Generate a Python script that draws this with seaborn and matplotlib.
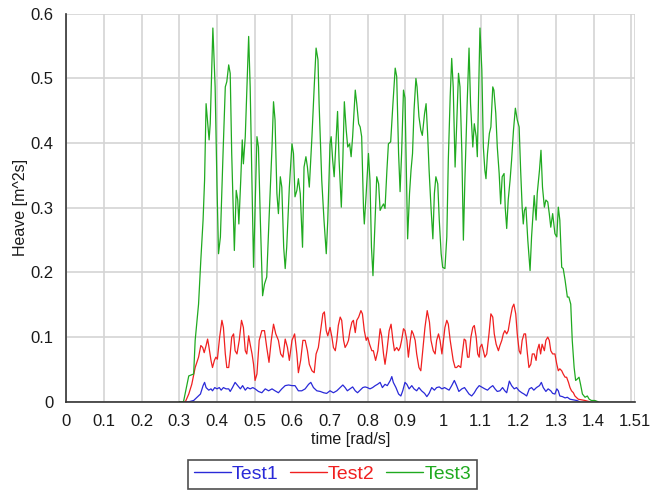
import matplotlib
matplotlib.use("Agg")
import matplotlib.pyplot as plt
import seaborn as sns
import pandas as pd
from matplotlib.ticker import MultipleLocator, FixedLocator

# ---------------- data ----------------
t3 = [0.300, 0.311, 0.325, 0.338, 0.342, 0.351, 0.357, 0.363, 0.367, 0.371, 0.379, 0.382, 0.389,
      0.395, 0.400, 0.404, 0.409, 0.416, 0.422, 0.426, 0.431, 0.435, 0.439, 0.446, 0.451, 0.455,
      0.458, 0.463, 0.467, 0.470, 0.475, 0.484, 0.488, 0.493, 0.497,
      0.506, 0.510, 0.515, 0.521, 0.526, 0.532, 0.538, 0.546, 0.550, 0.554, 0.559, 0.563, 0.568,
      0.572, 0.577, 0.581, 0.585, 0.592, 0.599, 0.603, 0.607, 0.612, 0.616, 0.621, 0.627, 0.631,
      0.636, 0.640, 0.645, 0.652, 0.658, 0.663, 0.668, 0.671, 0.678, 0.684, 0.690, 0.694, 0.700,
      0.703, 0.707, 0.711, 0.715, 0.720, 0.724, 0.730, 0.734, 0.738, 0.743, 0.747, 0.752, 0.756,
      0.760, 0.767, 0.771, 0.776, 0.780, 0.784, 0.789, 0.791, 0.796, 0.802, 0.806, 0.810, 0.814,
      0.818, 0.824, 0.829, 0.833, 0.837, 0.842, 0.846, 0.851, 0.855, 0.861, 0.867, 0.873, 0.877,
      0.882, 0.886, 0.890, 0.895,
      0.899, 0.906, 0.911, 0.915, 0.919, 0.923, 0.928, 0.931, 0.936, 0.941, 0.945, 0.951, 0.955,
      0.959, 0.963, 0.968, 0.973, 0.977, 0.981, 0.986, 0.990, 0.995, 0.999, 1.005, 1.010, 1.014,
      1.019, 1.023, 1.027, 1.032, 1.036, 1.041, 1.045, 1.050, 1.054, 1.058, 1.064, 1.069, 1.073,
      1.079, 1.083, 1.088, 1.091, 1.094,
      1.098, 1.103, 1.107, 1.111, 1.114, 1.118, 1.123, 1.127, 1.132, 1.135, 1.140, 1.144, 1.149,
      1.153, 1.157, 1.162, 1.165, 1.169, 1.173, 1.178, 1.182, 1.187, 1.192, 1.197, 1.202, 1.206,
      1.210, 1.213, 1.216, 1.220, 1.225, 1.231, 1.235, 1.240, 1.242, 1.247, 1.250, 1.256, 1.260,
      1.264, 1.269, 1.273, 1.278, 1.282, 1.286, 1.291, 1.297,
      1.302, 1.306, 1.310, 1.315, 1.319, 1.324, 1.330, 1.334, 1.339, 1.343, 1.348, 1.352, 1.356,
      1.361, 1.365, 1.370, 1.377, 1.383, 1.388, 1.394, 1.403, 1.412]
test3 = [0.000, 0.000, 0.040, 0.043, 0.095, 0.151, 0.219, 0.281, 0.343, 0.461, 0.405, 0.430, 0.578,
         0.487, 0.332, 0.229, 0.255, 0.384, 0.487, 0.495, 0.521, 0.508, 0.384, 0.234, 0.327, 0.312,
         0.275, 0.343, 0.405, 0.368, 0.410, 0.565, 0.487, 0.332, 0.208,
         0.410, 0.394, 0.281, 0.164, 0.182, 0.193, 0.281, 0.394, 0.464, 0.436, 0.322, 0.291, 0.348,
         0.332, 0.239, 0.206, 0.239, 0.332, 0.399, 0.384, 0.317, 0.327, 0.345, 0.322, 0.239, 0.363,
         0.379, 0.363, 0.332, 0.410, 0.487, 0.547, 0.529, 0.461, 0.343, 0.281, 0.229, 0.281, 0.399,
         0.410, 0.374, 0.348, 0.394, 0.449, 0.374, 0.301, 0.374, 0.464, 0.420, 0.394, 0.399, 0.379,
         0.410, 0.482, 0.461, 0.430, 0.425, 0.410, 0.296, 0.275, 0.322, 0.384, 0.343, 0.239, 0.195,
         0.255, 0.348, 0.337, 0.296, 0.301, 0.306, 0.299, 0.358, 0.399, 0.402, 0.461, 0.516, 0.503,
         0.384, 0.325, 0.384, 0.482,
         0.470, 0.252, 0.322, 0.358, 0.384, 0.451, 0.500, 0.487, 0.441, 0.420, 0.412, 0.446, 0.461,
         0.415, 0.358, 0.301, 0.252, 0.322, 0.348, 0.337, 0.281, 0.229, 0.208, 0.206, 0.255, 0.374,
         0.472, 0.531, 0.487, 0.363, 0.425, 0.508, 0.487, 0.384, 0.250, 0.343, 0.461, 0.547, 0.461,
         0.394, 0.430, 0.410, 0.379, 0.461,
         0.578, 0.513, 0.394, 0.358, 0.345, 0.384, 0.415, 0.425, 0.487, 0.482, 0.446, 0.394, 0.353,
         0.306, 0.348, 0.353, 0.301, 0.268, 0.312, 0.343, 0.374, 0.420, 0.454, 0.436, 0.425, 0.358,
         0.301, 0.275, 0.296, 0.301, 0.250, 0.203, 0.255, 0.301, 0.319, 0.281, 0.322, 0.358, 0.389,
         0.332, 0.301, 0.312, 0.309, 0.291, 0.270, 0.291, 0.260,
         0.255, 0.301, 0.281, 0.208, 0.206, 0.188, 0.162, 0.162, 0.151, 0.095, 0.053, 0.033, 0.035,
         0.038, 0.027, 0.012, 0.007, 0.009, 0.004, 0.002, 0.002, 0.000]

t2 = [0.300, 0.316, 0.325, 0.333, 0.342, 0.351, 0.357, 0.362, 0.366, 0.371, 0.375, 0.378, 0.384,
      0.388, 0.393, 0.397, 0.401, 0.407, 0.413, 0.417, 0.422, 0.426, 0.431, 0.435, 0.439, 0.444,
      0.448, 0.453, 0.459, 0.465, 0.470, 0.475, 0.479, 0.484, 0.488, 0.493, 0.497,
      0.501, 0.506, 0.512, 0.519, 0.526, 0.532, 0.538, 0.544, 0.550, 0.556, 0.563, 0.569, 0.575,
      0.581, 0.587, 0.592, 0.599, 0.606, 0.612, 0.616, 0.622, 0.628, 0.634, 0.640, 0.645, 0.652,
      0.658, 0.663, 0.669, 0.676, 0.681, 0.685, 0.690, 0.694, 0.700,
      0.705, 0.709, 0.714, 0.718, 0.722, 0.727, 0.731, 0.736, 0.740, 0.745, 0.749, 0.753, 0.758,
      0.762, 0.767, 0.771, 0.776, 0.782, 0.786, 0.791, 0.796, 0.800, 0.805, 0.811, 0.815, 0.821,
      0.827, 0.833, 0.837, 0.842, 0.846, 0.851, 0.857, 0.862, 0.867, 0.871, 0.877, 0.882, 0.886,
      0.890, 0.895,
      0.899, 0.904, 0.908, 0.913, 0.917, 0.921, 0.926, 0.930, 0.936, 0.941, 0.946, 0.952, 0.958,
      0.964, 0.968, 0.974, 0.979, 0.983, 0.988, 0.992, 0.997, 1.001, 1.005, 1.010, 1.014, 1.019,
      1.023, 1.027, 1.032, 1.036, 1.041, 1.047, 1.051, 1.056, 1.060, 1.065, 1.069, 1.074, 1.079,
      1.083, 1.088, 1.092, 1.096,
      1.098, 1.103, 1.107, 1.111, 1.116, 1.122, 1.127, 1.132, 1.136, 1.141, 1.147, 1.151, 1.156,
      1.160, 1.164, 1.169, 1.173, 1.179, 1.184, 1.188, 1.193, 1.197, 1.202, 1.206, 1.210, 1.215,
      1.219, 1.224, 1.228, 1.233, 1.237, 1.242, 1.247, 1.250, 1.255, 1.259, 1.263, 1.269, 1.273,
      1.278, 1.282, 1.286, 1.291,
      1.297, 1.302, 1.306, 1.310, 1.315, 1.319, 1.324, 1.328, 1.333, 1.337, 1.341, 1.346, 1.350,
      1.359, 1.368, 1.377, 1.390]
test2 = [0.000, 0.000, 0.012, 0.027, 0.053, 0.069, 0.087, 0.084, 0.076, 0.087, 0.097, 0.087, 0.064,
         0.053, 0.064, 0.069, 0.066, 0.100, 0.126, 0.115, 0.074, 0.053, 0.053, 0.074, 0.100, 0.105,
         0.079, 0.074, 0.095, 0.126, 0.115, 0.079, 0.074, 0.102, 0.089, 0.074, 0.058,
         0.033, 0.043, 0.095, 0.110, 0.110, 0.084, 0.061, 0.095, 0.120, 0.105, 0.095, 0.074, 0.069,
         0.097, 0.084, 0.064, 0.095, 0.105, 0.074, 0.045, 0.064, 0.095, 0.095, 0.079, 0.058, 0.048,
         0.045, 0.074, 0.084, 0.115, 0.136, 0.139, 0.110, 0.102, 0.115,
         0.100, 0.084, 0.079, 0.095, 0.118, 0.131, 0.126, 0.095, 0.084, 0.089, 0.095, 0.110, 0.123,
         0.126, 0.107, 0.126, 0.131, 0.141, 0.136, 0.110, 0.095, 0.100, 0.089, 0.079, 0.079, 0.064,
         0.079, 0.113, 0.102, 0.074, 0.058, 0.079, 0.110, 0.120, 0.095, 0.079, 0.084, 0.079, 0.084,
         0.095, 0.113,
         0.110, 0.095, 0.069, 0.095, 0.110, 0.105, 0.095, 0.074, 0.053, 0.048, 0.079, 0.115, 0.141,
         0.123, 0.095, 0.079, 0.074, 0.095, 0.105, 0.095, 0.074, 0.095, 0.115, 0.126, 0.120, 0.095,
         0.079, 0.064, 0.053, 0.053, 0.056, 0.053, 0.074, 0.097, 0.095, 0.069, 0.069, 0.100, 0.115,
         0.118, 0.100, 0.074, 0.069,
         0.084, 0.089, 0.079, 0.069, 0.074, 0.105, 0.136, 0.131, 0.105, 0.089, 0.079, 0.087, 0.095,
         0.105, 0.110, 0.105, 0.110, 0.131, 0.146, 0.151, 0.136, 0.105, 0.079, 0.074, 0.095, 0.105,
         0.105, 0.074, 0.053, 0.058, 0.074, 0.074, 0.064, 0.079, 0.089, 0.074, 0.089, 0.079, 0.095,
         0.100, 0.095, 0.079, 0.074,
         0.074, 0.058, 0.048, 0.051, 0.048, 0.043, 0.038, 0.038, 0.030, 0.022, 0.017, 0.014, 0.009,
         0.004, 0.003, 0.002, 0.000]

t1 = [0.300, 0.325, 0.338, 0.347, 0.356, 0.363, 0.367, 0.371, 0.378, 0.384, 0.388, 0.394, 0.400,
      0.406, 0.411, 0.417, 0.424, 0.431, 0.435, 0.441, 0.448, 0.455, 0.462, 0.468, 0.475, 0.481,
      0.488, 0.495,
      0.501, 0.510, 0.519, 0.528, 0.537, 0.546, 0.554, 0.563, 0.572, 0.581, 0.590, 0.599, 0.607,
      0.616, 0.625, 0.634, 0.643, 0.649, 0.656, 0.665, 0.674, 0.683, 0.691,
      0.700, 0.709, 0.718, 0.727, 0.734, 0.740, 0.746, 0.753, 0.760, 0.767, 0.773, 0.780, 0.787,
      0.793, 0.799, 0.806, 0.813, 0.820, 0.826, 0.833, 0.839, 0.846, 0.852, 0.860, 0.864, 0.868,
      0.875, 0.882, 0.888, 0.893, 0.899,
      0.904, 0.910, 0.917, 0.923, 0.930, 0.936, 0.943, 0.951, 0.957, 0.963, 0.970, 0.977, 0.983,
      0.990, 0.997, 1.004, 1.010, 1.016, 1.023, 1.030, 1.036, 1.042, 1.050, 1.057, 1.063, 1.069,
      1.076, 1.083, 1.089, 1.096,
      1.105, 1.111, 1.118, 1.125, 1.132, 1.138, 1.144, 1.151, 1.158, 1.164, 1.169, 1.176, 1.182,
      1.189, 1.195, 1.202, 1.209, 1.215, 1.222, 1.229, 1.235, 1.241, 1.248, 1.256, 1.261, 1.266,
      1.273, 1.279, 1.286, 1.291, 1.297,
      1.302, 1.306, 1.310, 1.317, 1.324, 1.330, 1.337, 1.346, 1.355, 1.363]
test1 = [0.000, 0.000, 0.002, 0.007, 0.012, 0.025, 0.030, 0.022, 0.018, 0.020, 0.017, 0.022, 0.020,
         0.022, 0.018, 0.022, 0.020, 0.020, 0.016, 0.022, 0.030, 0.025, 0.020, 0.025, 0.018, 0.022,
         0.020, 0.022,
         0.020, 0.016, 0.014, 0.020, 0.017, 0.020, 0.017, 0.014, 0.020, 0.025, 0.026, 0.025, 0.025,
         0.017, 0.017, 0.020, 0.027, 0.030, 0.022, 0.017, 0.016, 0.014, 0.013,
         0.017, 0.014, 0.017, 0.022, 0.026, 0.022, 0.017, 0.020, 0.023, 0.017, 0.014, 0.018, 0.022,
         0.023, 0.022, 0.020, 0.022, 0.025, 0.027, 0.030, 0.022, 0.027, 0.025, 0.033, 0.039, 0.030,
         0.022, 0.012, 0.009, 0.017, 0.030,
         0.027, 0.020, 0.025, 0.020, 0.017, 0.022, 0.017, 0.013, 0.008, 0.013, 0.022, 0.018, 0.022,
         0.023, 0.020, 0.022, 0.020, 0.018, 0.025, 0.033, 0.025, 0.016, 0.020, 0.022, 0.017, 0.012,
         0.009, 0.014, 0.020, 0.025,
         0.022, 0.020, 0.018, 0.022, 0.025, 0.020, 0.016, 0.017, 0.022, 0.017, 0.014, 0.032, 0.025,
         0.020, 0.022, 0.017, 0.014, 0.012, 0.009, 0.020, 0.022, 0.018, 0.022, 0.025, 0.030, 0.022,
         0.016, 0.020, 0.017, 0.013, 0.012,
         0.020, 0.017, 0.009, 0.008, 0.006, 0.007, 0.004, 0.003, 0.002, 0.000]

series_names = ["Test1", "Test2", "Test3"]
series_colors = ["#2a2ad8", "#f02020", "#20aa20"]
x_tick_values = [0, 0.1, 0.2, 0.3, 0.4, 0.5, 0.6, 0.7, 0.8, 0.9, 1.0, 1.1, 1.2, 1.3, 1.4, 1.5, 1.51]
x_tick_labels = ["0", "0.1", "0.2", "0.3", "0.4", "0.5", "0.6", "0.7", "0.8", "0.9", "1",
                 "1.1", "1.2", "1.3", "1.4", "", "1.51"]
y_tick_values = [0, 0.1, 0.2, 0.3, 0.4, 0.5, 0.6]
y_tick_labels = ["0", "0.1", "0.2", "0.3", "0.4", "0.5", "0.6"]

# ---------------- figure ----------------
sns.set_style("white")
plt.rcParams["font.family"] = ["Liberation Sans", "DejaVu Sans"]

fig = plt.figure(figsize=(6.70, 4.93), dpi=100)
ax = fig.add_axes([0.099, 0.185, 0.849, 0.787])

frames = []
for name, tt, vv in zip(series_names, [t1, t2, t3], [test1, test2, test3]):
    frames.append(pd.DataFrame({"time": tt, "value": vv, "series": name}))
df = pd.concat(frames, ignore_index=True)

sns.lineplot(data=df, x="time", y="value", hue="series", hue_order=series_names,
             palette=dict(zip(series_names, series_colors)), linewidth=0.9,
             ax=ax, legend=False, estimator=None, sort=False)

ax.set_xlim(0, 1.51)
ax.set_ylim(0, 0.6)
ax.xaxis.set_major_locator(FixedLocator(x_tick_values))
ax.set_xticklabels(x_tick_labels)
ax.set_yticks(y_tick_values)
ax.set_yticklabels(y_tick_labels)
ax.yaxis.set_minor_locator(MultipleLocator(0.02))

ax.grid(True, which="major", color="#d4d4d4", linewidth=1.2)
ax.set_axisbelow(True)
for s in ["top", "right"]:
    ax.spines[s].set_visible(False)
ax.spines["left"].set_color("#333333")
ax.spines["bottom"].set_color("#333333")
ax.spines["left"].set_linewidth(1.2)
ax.spines["bottom"].set_linewidth(1.2)

ax.tick_params(axis="both", which="major", direction="out", length=6, width=1.1,
               color="#333333", labelsize=12, labelcolor="#1a1a1a", pad=3)
ax.tick_params(axis="y", which="minor", direction="out", length=3.5, width=1.0, color="#333333")
ax.tick_params(axis="x", which="minor", length=0)

ax.set_xlabel("time [rad/s]", fontsize=11.5, labelpad=2, color="#1a1a1a")
ax.set_ylabel("Heave [m^2s]", fontsize=11.5, labelpad=2, color="#1a1a1a")

handles = [plt.Line2D([], [], color=c, linewidth=1.0) for c in series_colors]
leg = fig.legend(handles, series_names, loc="lower center", bbox_to_anchor=(0.496, 0.0),
                 ncol=3, fontsize=14, frameon=True, fancybox=False, edgecolor="#222222",
                 handlelength=1.9, handletextpad=0.05, columnspacing=0.6,
                 borderpad=0.3, borderaxespad=0.2)
leg.get_frame().set_linewidth(1.2)
for txt, c in zip(leg.get_texts(), series_colors):
    txt.set_color(c)

fig.savefig("out.png", dpi=100)
